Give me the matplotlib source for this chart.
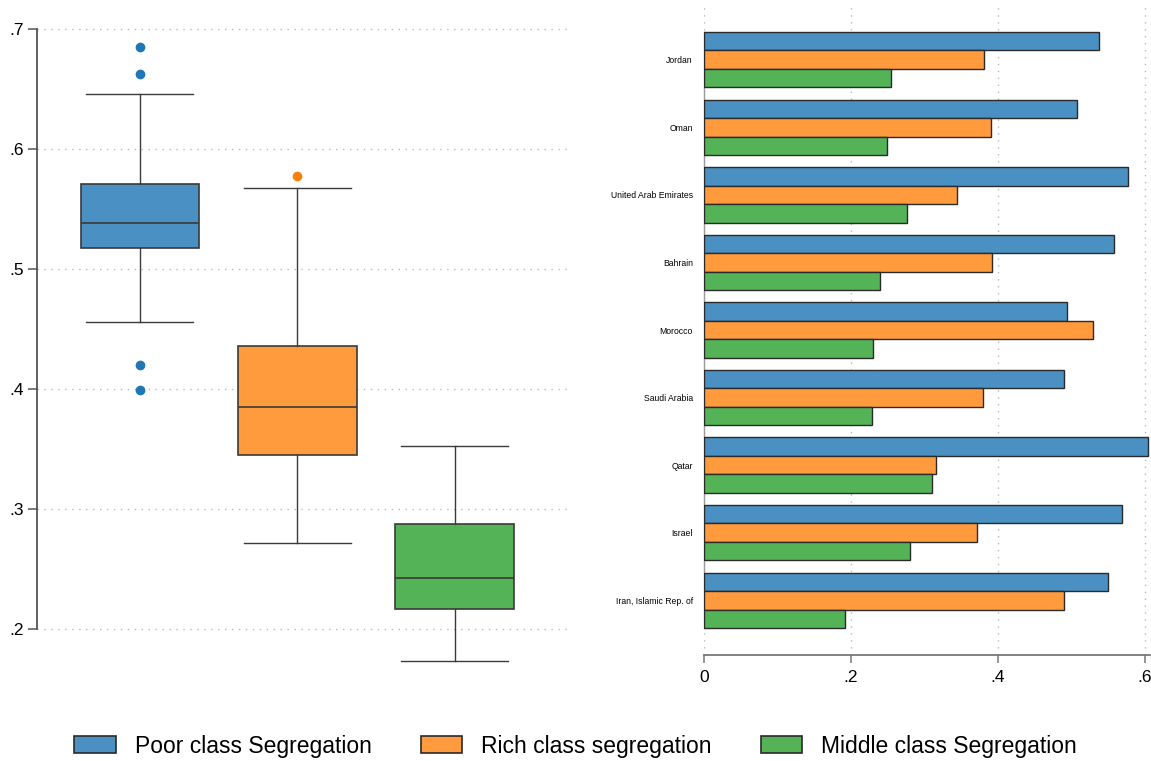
import matplotlib
matplotlib.use("Agg")
import matplotlib.pyplot as plt
from matplotlib.patches import Patch

plt.rcParams['font.family'] = ['Liberation Sans', 'DejaVu Sans']

# Summary statistics of the three segregation indices (across all cities)
series_names = ["Poor class Segregation", "Rich class segregation", "Middle class Segregation"]
box_q1 = [0.5175, 0.345, 0.2167]
box_median = [0.538, 0.385, 0.2425]
box_q3 = [0.571, 0.436, 0.2875]
box_whislo = [0.456, 0.2717, 0.1733]
box_whishi = [0.646, 0.5675, 0.3525]
box_fliers = [[0.685, 0.6625, 0.42, 0.399], [0.577], []]

# Country averages
countries = ["Jordan", "Oman", "United Arab Emirates", "Bahrain", "Morocco",
             "Saudi Arabia", "Qatar", "Israel", "Iran, Islamic Rep. of"]
poor = [0.538, 0.507, 0.577, 0.558, 0.4935, 0.4905, 0.604, 0.569, 0.550]
rich = [0.381, 0.390, 0.3447, 0.392, 0.530, 0.380, 0.316, 0.372, 0.4905]
middle = [0.2546, 0.249, 0.276, 0.239, 0.2295, 0.2286, 0.310, 0.281, 0.192]

y_ticks_left = [0.2, 0.3, 0.4, 0.5, 0.6, 0.7]
x_ticks_right = [0, 0.2, 0.4, 0.6]

fill_colors = ["#4b90c2", "#ff9a3d", "#55b357"]
flier_colors = ["#1f77b4", "#ff7f0e", "#2ca02c"]
edge = "#3a3a3a"
grid_color = "#b8b8b8"


def fmt(v):
    s = f"{v:.1f}"
    return s[1:] if s.startswith("0.") else s.replace(".0", "")


W, H = 1151, 761
fig = plt.figure(figsize=(W / 100, H / 100), dpi=100)


def px_axes(x0, y0, x1, y1):
    return fig.add_axes([x0 / W, 1 - y1 / H, (x1 - x0) / W, (y1 - y0) / H])


# ---- left: box plots ----
ax1 = px_axes(37, 24, 568, 668)
stats = []
for i in range(3):
    stats.append(dict(med=box_median[i], q1=box_q1[i], q3=box_q3[i],
                      whislo=box_whislo[i], whishi=box_whishi[i],
                      fliers=box_fliers[i]))
positions = [1, 2, 3]
bp = ax1.bxp(stats, positions=positions, widths=0.755, patch_artist=True,
             showfliers=True,
             boxprops=dict(edgecolor=edge, linewidth=1.2),
             medianprops=dict(color=edge, linewidth=1.2),
             whiskerprops=dict(color=edge, linewidth=1.0),
             capprops=dict(color=edge, linewidth=1.0),
             capwidths=0.68)
for i, b in enumerate(bp['boxes']):
    b.set_facecolor(fill_colors[i])
for i, f in enumerate(bp['fliers']):
    f.set(marker='o', markersize=6, markerfacecolor=flier_colors[i],
          markeredgecolor=flier_colors[i], linestyle='none')

ax1.set_xlim(0.346, 3.72)
ax1.set_ylim(0.1675, 0.704)
ax1.set_yticks(y_ticks_left)
ax1.set_yticklabels([fmt(v) for v in y_ticks_left], fontsize=12.5)
ax1.set_xticks([])
for s in ["top", "right", "bottom"]:
    ax1.spines[s].set_visible(False)
ax1.spines["left"].set_bounds(0.2, 0.7)
ax1.spines["left"].set_color("#555555")
ax1.spines["left"].set_linewidth(1.3)
ax1.tick_params(axis='y', length=6.5, width=1.1, color="#555555", pad=3)
ax1.yaxis.grid(True, linestyle=(0, (1, 4)), color=grid_color, linewidth=1)
ax1.set_axisbelow(True)

# ---- right: grouped horizontal bars ----
ax2 = px_axes(704, 5, 1150, 655)
n = len(countries)
ypos = [n - 1 - i for i in range(n)]
bh = 0.274
for vals, col, off in [(poor, fill_colors[0], bh), (rich, fill_colors[1], 0.0),
                       (middle, fill_colors[2], -bh)]:
    ax2.barh([y + off for y in ypos], vals, height=bh, color=col,
             edgecolor="#2a2a2a", linewidth=1.0, zorder=3)
ax2.set_ylim(-0.81, n - 1 + 0.81)
ax2.set_xlim(0, 0.607)
ax2.set_yticks(ypos)
ax2.set_yticklabels(countries, fontsize=6.2)
ax2.tick_params(axis='y', length=0, pad=8)
ax2.set_xticks(x_ticks_right)
ax2.set_xticklabels(["0"] + [fmt(v) for v in x_ticks_right[1:]], fontsize=12.5)
ax2.tick_params(axis='x', length=6, width=1.1, color="#777777", pad=5)
for s in ["top", "right"]:
    ax2.spines[s].set_visible(False)
ax2.spines["bottom"].set_color("#777777")
ax2.spines["bottom"].set_linewidth(1.3)
ax2.spines["left"].set_bounds(ypos[-1] - 1.5 * bh, ypos[0] + 1.5 * bh)
ax2.spines["left"].set_color("#9a9a9a")
ax2.spines["left"].set_linewidth(1.0)
ax2.xaxis.grid(True, linestyle=(0, (1, 4)), color=grid_color, linewidth=1)
ax2.set_axisbelow(True)

# ---- legend ----
handles = [Patch(facecolor=fill_colors[i], edgecolor="#2a2a2a", linewidth=1.2,
                 label=series_names[i]) for i in range(3)]
fig.legend(handles=handles, loc="center", bbox_to_anchor=(0.5, 1 - 746 / H),
           ncol=3, frameon=False, fontsize=16.5, handlelength=1.8,
           handleheight=0.7, columnspacing=2.15, handletextpad=0.83)

fig.savefig("out.png", dpi=100, facecolor="white")
